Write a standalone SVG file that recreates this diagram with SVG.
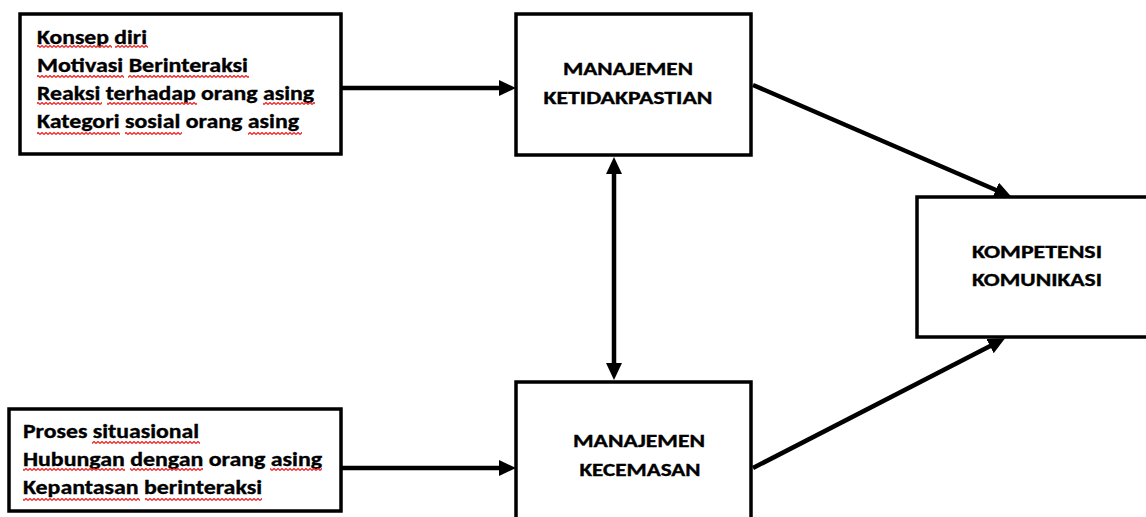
<svg xmlns="http://www.w3.org/2000/svg" width="1146" height="517" viewBox="0 0 1146 517">
<style>
.box{fill:#fff;stroke:#000;stroke-width:3.5}
.t{font-family:Carlito,Lato,"Liberation Sans",sans-serif;font-weight:bold;fill:#000;stroke:#000;stroke-width:0.35}
.l{font-size:20px}
.h{font-size:18px;text-anchor:middle}
.conn{stroke:#000;stroke-width:4.5;fill:none}
.sq{fill:url(#wave)}
</style>
<defs>
<marker id="ah" markerUnits="userSpaceOnUse" markerWidth="17" markerHeight="16" refX="9" refY="8" orient="auto-start-reverse" viewBox="0 0 17 16">
<path d="M0,0 L17,8 L0,16 z" fill="#000"/>
</marker>
<pattern id="wave" patternUnits="userSpaceOnUse" width="4" height="3">
<path d="M0,2.5 L2,0.5 L4,2.5" fill="none" stroke="#f02828" stroke-width="1.3"/>
</pattern>
</defs>

<g id="connectors">
<line class="conn" x1="341" y1="88" x2="508" y2="88" marker-end="url(#ah)"/>
<line class="conn" x1="341" y1="468" x2="508" y2="468" marker-end="url(#ah)"/>
<line class="conn" x1="614" y1="165" x2="614" y2="372" marker-start="url(#ah)" marker-end="url(#ah)"/>
<line class="conn" x1="753" y1="85" x2="1004" y2="193.5" marker-end="url(#ah)"/>
<line class="conn" x1="753" y1="468" x2="998" y2="342" marker-end="url(#ah)"/>
</g>

<g id="node-input-top">
<rect class="box" x="20" y="14" width="321" height="140"/>
<text class="t l" x="37" y="44" textLength="110" lengthAdjust="spacingAndGlyphs">Konsep diri</text>
<text class="t l" x="37" y="72" textLength="211" lengthAdjust="spacingAndGlyphs">Motivasi Berinteraksi</text>
<text class="t l" x="37" y="100" textLength="277" lengthAdjust="spacingAndGlyphs">Reaksi terhadap orang asing</text>
<text class="t l" x="37" y="128" textLength="262" lengthAdjust="spacingAndGlyphs">Kategori sosial orang asing</text>
<rect class="sq" x="37" y="45" width="75" height="3"/>
<rect class="sq" x="115" y="45" width="33" height="3"/>
<rect class="sq" x="37" y="75" width="87" height="3"/>
<rect class="sq" x="128" y="75" width="121" height="3"/>
<rect class="sq" x="37" y="102" width="65" height="3"/>
<rect class="sq" x="107" y="102" width="90" height="3"/>
<rect class="sq" x="263" y="102" width="52" height="3"/>
<rect class="sq" x="37" y="132" width="83" height="3"/>
<rect class="sq" x="125" y="132" width="57" height="3"/>
<rect class="sq" x="248" y="132" width="54" height="3"/>
</g>

<g id="node-input-bottom">
<rect class="box" x="9" y="409" width="332" height="102"/>
<text class="t l" x="23" y="438" textLength="176" lengthAdjust="spacingAndGlyphs">Proses situasional</text>
<text class="t l" x="23" y="466" textLength="299" lengthAdjust="spacingAndGlyphs">Hubungan dengan orang asing</text>
<text class="t l" x="23" y="494" textLength="239" lengthAdjust="spacingAndGlyphs">Kepantasan berinteraksi</text>
<rect class="sq" x="92" y="441" width="108" height="3"/>
<rect class="sq" x="23" y="468" width="102" height="3"/>
<rect class="sq" x="130" y="468" width="73" height="3"/>
<rect class="sq" x="270" y="468" width="52" height="3"/>
<rect class="sq" x="23" y="498" width="117" height="3"/>
<rect class="sq" x="145" y="498" width="117" height="3"/>
</g>

<g id="node-ketidakpastian">
<rect class="box" x="516" y="14" width="235" height="141"/>
<text class="t h" x="628" y="75" textLength="130" lengthAdjust="spacingAndGlyphs">MANAJEMEN</text>
<text class="t h" x="628" y="104" textLength="169" lengthAdjust="spacingAndGlyphs">KETIDAKPASTIAN</text>
</g>

<g id="node-kecemasan">
<rect class="box" x="516" y="382" width="235" height="150"/>
<text class="t h" x="639" y="447" textLength="132" lengthAdjust="spacingAndGlyphs">MANAJEMEN</text>
<text class="t h" x="640" y="476" textLength="121" lengthAdjust="spacingAndGlyphs">KECEMASAN</text>
</g>

<g id="node-kompetensi">
<rect class="box" x="917" y="197" width="240" height="140"/>
<text class="t h" x="1037" y="258" textLength="130" lengthAdjust="spacingAndGlyphs">KOMPETENSI</text>
<text class="t h" x="1037" y="286" textLength="130" lengthAdjust="spacingAndGlyphs">KOMUNIKASI</text>
</g>
</svg>
